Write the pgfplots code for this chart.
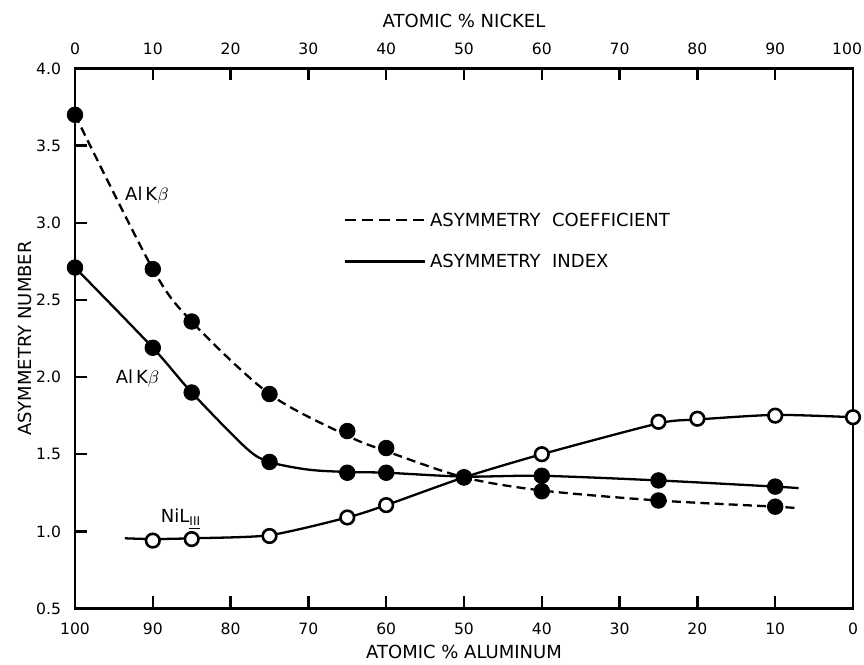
\documentclass[border=0pt]{standalone}
\usepackage{fontspec}
\setmainfont{DejaVu Sans}
\usepackage{pgfplots}
\pgfplotsset{compat=1.18}
\usepackage{pgfplotstable}

% measured points (x = atomic % nickel)
\pgfplotstableread{
ni v
0  3.70
10 2.70
15 2.36
25 1.89
35 1.65
40 1.54
50 1.35
60 1.26
75 1.20
90 1.16
}\coefpts
\pgfplotstableread{
ni v
0  3.70
10 2.70
15 2.36
25 1.89
35 1.62
40 1.52
50 1.35
60 1.265
75 1.20
90 1.16
93 1.15
}\coefcurve
\pgfplotstableread{
ni v
0  2.71
10 2.19
15 1.90
25 1.45
35 1.38
40 1.38
50 1.35
60 1.36
75 1.33
90 1.29
}\indexpts
\pgfplotstableread{
ni v
0  2.71
10 2.19
15 1.90
22 1.54
25 1.45
30 1.40
35 1.385
40 1.38
50 1.355
60 1.36
75 1.33
90 1.29
93 1.28
}\indexcurve
\pgfplotstableread{
ni v
10  0.94
15  0.95
25  0.97
35  1.09
40  1.17
60  1.50
75  1.71
80  1.73
90  1.75
100 1.74
}\nipts
\pgfplotstableread{
ni v
6.4 0.955
10  0.95
15  0.955
25  0.975
35  1.09
40  1.17
50  1.35
60  1.50
75  1.70
80  1.725
90  1.755
100 1.74
}\nicurve

\begin{document}
\begin{tikzpicture}
\path[use as bounding box] (-37.5pt,-28.25pt) rectangle (394.5pt,304.25pt);
\pgfplotsset{
  common/.style={
    scale only axis, width=389pt, height=270pt,
    xmin=0, xmax=100, ymin=0.5, ymax=4.0,
    /pgf/number format/assume math mode=true,
    tick align=inside, major tick length=6pt,
    tick style={line width=1.2pt, black},
    ticklabel style={font=\fontsize{7.8}{9}\selectfont},
  }
}
\begin{axis}[common, name=main,
  axis line style={line width=1.4pt},
  clip=false,
  xtick={0,10,...,100},
  xticklabels={100,90,80,70,60,50,40,30,20,10,0},
  xtick pos=lower, ytick pos=left,
  ytick={0.5,1.0,...,4.0},
  yticklabel style={/pgf/number format/fixed, /pgf/number format/fixed zerofill, /pgf/number format/precision=1, xshift=-3.5pt},
  xticklabel style={yshift=-3.5pt},
]
% fitted curves
\addplot[black, line width=1.15pt, smooth, dash pattern=on 4.5pt off 2.6pt] table[x=ni,y=v]{\coefcurve};
\addplot[black, line width=1.15pt, smooth] table[x=ni,y=v]{\indexcurve};
\addplot[black, line width=1.15pt, smooth, tension=0.4] table[x=ni,y=v]{\nicurve};
% data points
\addplot[only marks, mark=*, mark size=3.9pt, black] table[x=ni,y=v]{\coefpts};
\addplot[only marks, mark=*, mark size=3.9pt, black] table[x=ni,y=v]{\indexpts};
\addplot[only marks, mark=*, mark size=3.4pt, mark options={fill=white, draw=black, line width=1.3pt}] table[x=ni,y=v]{\nipts};
% key
\addplot[black, line width=1.15pt, dash pattern=on 5.5pt off 3pt] coordinates {(34.7,3.02) (45.0,3.02)};
\addplot[black, line width=1.15pt] coordinates {(34.7,2.75) (45.0,2.75)};
\node[anchor=west, inner sep=0pt, font=\fontsize{9}{10}\selectfont] at (axis cs:45.6,3.02) {ASYMMETRY\ \ COEFFICIENT};
\node[anchor=west, inner sep=0pt, font=\fontsize{9}{10}\selectfont] at (axis cs:45.6,2.75) {ASYMMETRY\ \ INDEX};
% curve labels
\node[anchor=west, inner sep=0pt, font=\fontsize{9}{10}\selectfont] at (axis cs:6.4,3.18) {Al\,K$\beta$};
\node[anchor=west, inner sep=0pt, font=\fontsize{9}{10}\selectfont] at (axis cs:5.2,1.99) {Al\,K$\beta$};
\node[anchor=west, inner sep=0pt, font=\fontsize{9}{10}\selectfont] at (axis cs:11.0,1.08) {NiL\textsubscript{\underline{III}}};
\end{axis}
\begin{axis}[common,
  axis x line*=top, axis y line=none,
  axis line style={line width=1.4pt},
  xtick={0,10,...,100},
  xticklabels={0,10,20,30,40,50,60,70,80,90,\makebox[0pt][r]{100\kern-4.5pt}},
  xticklabel style={yshift=3.5pt},
]
\addplot[draw=none] coordinates {(0,1) (100,1)};
\end{axis}
\node[font=\fontsize{9}{10}\selectfont] at ([yshift=-21.75pt]main.south) {ATOMIC \% ALUMINUM};
\node[font=\fontsize{9}{10}\selectfont] at ([yshift=23.75pt]main.north) {ATOMIC \% NICKEL};
\node[font=\fontsize{9}{10}\selectfont, rotate=90] at ([xshift=-25pt]main.west) {ASYMMETRY NUMBER};
\end{tikzpicture}
\end{document}
